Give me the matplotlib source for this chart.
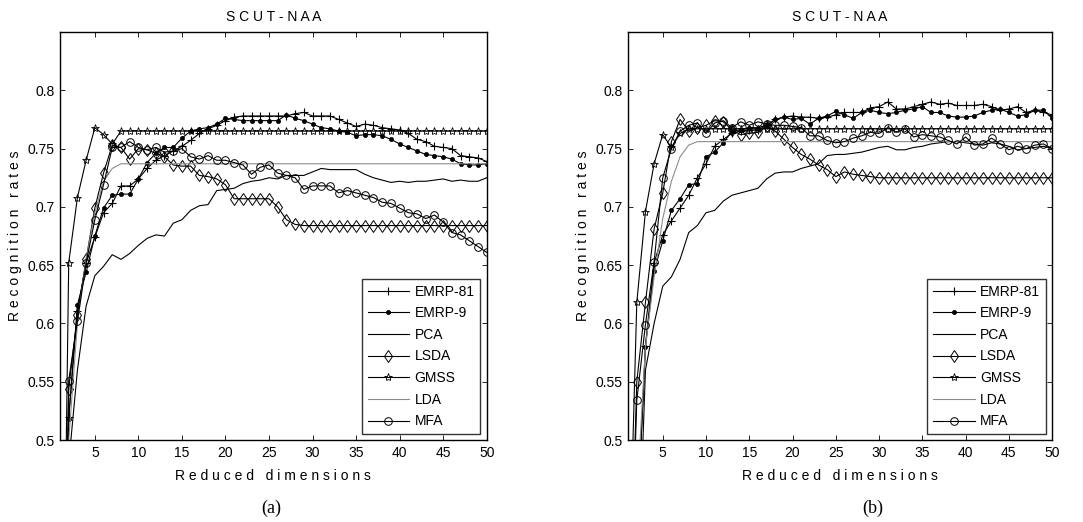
import numpy as np
import matplotlib
matplotlib.use("Agg")
import matplotlib.pyplot as plt

plt.rcParams['font.family'] = ['Liberation Sans', 'DejaVu Sans']

# reduced dimensions 1..50
dims = list(range(1, 51))

# ---- panel (a) ----
a_emrp81 = [0.10, 0.520, 0.611, 0.652, 0.674, 0.695, 0.703, 0.718, 0.718, 0.724,
            0.733, 0.740, 0.744, 0.748, 0.752, 0.757, 0.763, 0.767, 0.770, 0.774,
            0.777, 0.778, 0.778, 0.778, 0.778, 0.778, 0.778, 0.780, 0.781, 0.778,
            0.778, 0.778, 0.775, 0.772, 0.769, 0.771, 0.770, 0.768, 0.767, 0.766,
            0.763, 0.758, 0.756, 0.752, 0.751, 0.750, 0.744, 0.743, 0.742, 0.739]
a_emrp9 = [0.10, 0.518, 0.616, 0.644, 0.675, 0.699, 0.710, 0.711, 0.711, 0.724,
           0.738, 0.746, 0.751, 0.751, 0.759, 0.765, 0.767, 0.768, 0.771, 0.776,
           0.775, 0.774, 0.774, 0.774, 0.774, 0.774, 0.779, 0.776, 0.774, 0.771,
           0.768, 0.767, 0.765, 0.764, 0.761, 0.762, 0.762, 0.761, 0.758, 0.754,
           0.751, 0.748, 0.745, 0.744, 0.743, 0.741, 0.737, 0.736, 0.736, 0.737]
a_pca = [0.10, 0.480, 0.560, 0.615, 0.641, 0.649, 0.659, 0.655, 0.660, 0.667,
         0.673, 0.676, 0.675, 0.686, 0.689, 0.697, 0.701, 0.702, 0.714, 0.715,
         0.716, 0.720, 0.722, 0.723, 0.725, 0.724, 0.727, 0.727, 0.727, 0.730,
         0.733, 0.732, 0.732, 0.732, 0.732, 0.728, 0.725, 0.723, 0.721, 0.722,
         0.721, 0.722, 0.722, 0.723, 0.724, 0.722, 0.723, 0.722, 0.722, 0.725]
a_lsda = [0.10, 0.544, 0.607, 0.655, 0.699, 0.729, 0.753, 0.751, 0.741, 0.750,
          0.749, 0.746, 0.743, 0.736, 0.735, 0.735, 0.727, 0.726, 0.724, 0.719,
          0.707, 0.707, 0.707, 0.707, 0.707, 0.700, 0.689, 0.685, 0.684, 0.684,
          0.684, 0.684, 0.684, 0.684, 0.684, 0.684, 0.684, 0.684, 0.684, 0.684,
          0.684, 0.684, 0.684, 0.684, 0.684, 0.684, 0.684, 0.684, 0.684, 0.684]
a_gmss = [0.10, 0.652, 0.708, 0.740, 0.768, 0.762, 0.754] + [0.765] * 43
a_lda = [0.10, 0.500, 0.600, 0.655, 0.695, 0.722, 0.733] + [0.737] * 43
a_mfa = [0.10, 0.551, 0.602, 0.652, 0.689, 0.719, 0.751, 0.751, 0.756, 0.751,
         0.749, 0.751, 0.747, 0.748, 0.750, 0.743, 0.741, 0.744, 0.740, 0.740,
         0.738, 0.736, 0.728, 0.734, 0.736, 0.729, 0.727, 0.725, 0.715, 0.718,
         0.718, 0.718, 0.712, 0.714, 0.712, 0.710, 0.708, 0.704, 0.703, 0.699,
         0.695, 0.694, 0.690, 0.693, 0.687, 0.678, 0.676, 0.671, 0.666, 0.661]

# ---- panel (b) ----
b_emrp81 = [0.30, 0.420, 0.581, 0.652, 0.676, 0.688, 0.699, 0.710, 0.725, 0.737,
            0.752, 0.758, 0.763, 0.765, 0.766, 0.766, 0.770, 0.775, 0.777, 0.778,
            0.777, 0.777, 0.776, 0.777, 0.779, 0.781, 0.781, 0.781, 0.785, 0.786,
            0.790, 0.784, 0.784, 0.786, 0.788, 0.790, 0.788, 0.789, 0.787, 0.787,
            0.787, 0.788, 0.786, 0.783, 0.784, 0.786, 0.781, 0.783, 0.781, 0.779]
b_emrp9 = [0.30, 0.420, 0.580, 0.645, 0.671, 0.697, 0.707, 0.719, 0.720, 0.743,
           0.747, 0.755, 0.765, 0.766, 0.768, 0.768, 0.770, 0.775, 0.777, 0.775,
           0.776, 0.771, 0.776, 0.778, 0.782, 0.779, 0.776, 0.781, 0.783, 0.781,
           0.780, 0.781, 0.783, 0.784, 0.786, 0.781, 0.781, 0.778, 0.777, 0.777,
           0.778, 0.781, 0.783, 0.784, 0.781, 0.778, 0.779, 0.783, 0.783, 0.776]
b_pca = [0.20, 0.350, 0.560, 0.600, 0.632, 0.640, 0.655, 0.678, 0.684, 0.695,
         0.697, 0.705, 0.710, 0.712, 0.714, 0.716, 0.724, 0.729, 0.730, 0.730,
         0.733, 0.735, 0.737, 0.744, 0.745, 0.745, 0.746, 0.747, 0.749, 0.751,
         0.752, 0.749, 0.749, 0.751, 0.752, 0.754, 0.755, 0.756, 0.756, 0.755,
         0.754, 0.753, 0.755, 0.754, 0.752, 0.749, 0.750, 0.751, 0.752, 0.750]
b_lsda = [0.30, 0.550, 0.618, 0.681, 0.712, 0.756, 0.775, 0.765, 0.768, 0.770,
          0.774, 0.773, 0.766, 0.762, 0.763, 0.764, 0.769, 0.765, 0.758, 0.751,
          0.745, 0.741, 0.736, 0.732, 0.726, 0.730, 0.728, 0.727, 0.726, 0.725,
          0.725, 0.725, 0.725, 0.725, 0.725, 0.725, 0.725, 0.725, 0.725, 0.725,
          0.725, 0.725, 0.725, 0.725, 0.725, 0.725, 0.725, 0.725, 0.725, 0.725]
b_gmss = [0.35, 0.618, 0.696, 0.737, 0.762, 0.751, 0.763] + [0.767] * 43
b_lda = [0.30, 0.450, 0.580, 0.640, 0.690, 0.722, 0.743, 0.753] + [0.756] * 42
b_mfa = [0.30, 0.534, 0.599, 0.653, 0.725, 0.750, 0.765, 0.770, 0.772, 0.763,
         0.772, 0.774, 0.768, 0.773, 0.770, 0.773, 0.771, 0.770, 0.770, 0.769,
         0.768, 0.761, 0.761, 0.757, 0.755, 0.756, 0.759, 0.761, 0.764, 0.763,
         0.768, 0.764, 0.767, 0.760, 0.762, 0.761, 0.760, 0.757, 0.754, 0.760,
         0.753, 0.754, 0.759, 0.754, 0.749, 0.752, 0.750, 0.753, 0.754, 0.750]

labels = ['EMRP-81', 'EMRP-9', 'PCA', 'LSDA', 'GMSS', 'LDA', 'MFA']
xticks = [5, 10, 15, 20, 25, 30, 35, 40, 45, 50]
yticks = [0.5, 0.55, 0.6, 0.65, 0.7, 0.75, 0.8]
ytick_labels = ['0.5', '0.55', '0.6', '0.65', '0.7', '0.75', '0.8']

# line styles in plotting order
styles = [
    dict(color='black', marker='+', ms=6, mew=0.8),
    dict(color='black', marker='o', ms=3, mfc='black', mew=0.5),
    dict(color='black', marker=None),
    dict(color='black', marker='d', ms=6, mfc='none', mew=0.7),
    dict(color='black', marker='*', ms=6, mfc='none', mew=0.6),
    dict(color='0.55', marker=None),
    dict(color='black', marker='o', ms=5.5, mfc='none', mew=0.7),
]


def spaced(s):
    return ' '.join(s)


def draw_panel(ax, series, caption, cap_x):
    for y, lab, st in zip(series, labels, styles):
        ax.plot(dims, y, lw=0.8, label=lab, clip_on=True, **st)
    ax.set_xlim(1, 50)
    ax.set_ylim(0.5, 0.85)
    ax.set_xticks(xticks)
    ax.set_yticks(yticks)
    ax.set_yticklabels(ytick_labels)
    ax.tick_params(direction='in', top=True, right=True, length=3.5,
                   width=0.6, labelsize=10, pad=4)
    for sp in ax.spines.values():
        sp.set_linewidth(1.0)
    ax.set_title(spaced('SCUT-NAA'), fontsize=10, pad=8)
    ax.set_xlabel(spaced('Reduced') + '   ' + spaced('dimensions'), fontsize=10, labelpad=7)
    ax.set_ylabel(spaced('Recognition') + '   ' + spaced('rates'), fontsize=10, labelpad=4)
    leg = ax.legend(loc='lower right', bbox_to_anchor=(0.985, 0.015), fontsize=10,
                    frameon=True, fancybox=False, edgecolor='black',
                    handlelength=3.0, handletextpad=0.4, labelspacing=0.55,
                    borderpad=0.4, borderaxespad=0)
    leg.get_frame().set_linewidth(1.0)
    fig.text(cap_x, 0.027, caption, ha='center', va='center',
             fontsize=13, family=['Liberation Serif', 'DejaVu Serif'])


fig = plt.figure(figsize=(10.83, 5.22), dpi=100)
ax1 = fig.add_axes([0.0554, 0.157, 0.394, 0.7816])
ax2 = fig.add_axes([0.580, 0.157, 0.3915, 0.7816])

draw_panel(ax1, [a_emrp81, a_emrp9, a_pca, a_lsda, a_gmss, a_lda, a_mfa], '(a)', 0.250)
draw_panel(ax2, [b_emrp81, b_emrp9, b_pca, b_lsda, b_gmss, b_lda, b_mfa], '(b)', 0.806)

fig.savefig('out.png', dpi=100)
